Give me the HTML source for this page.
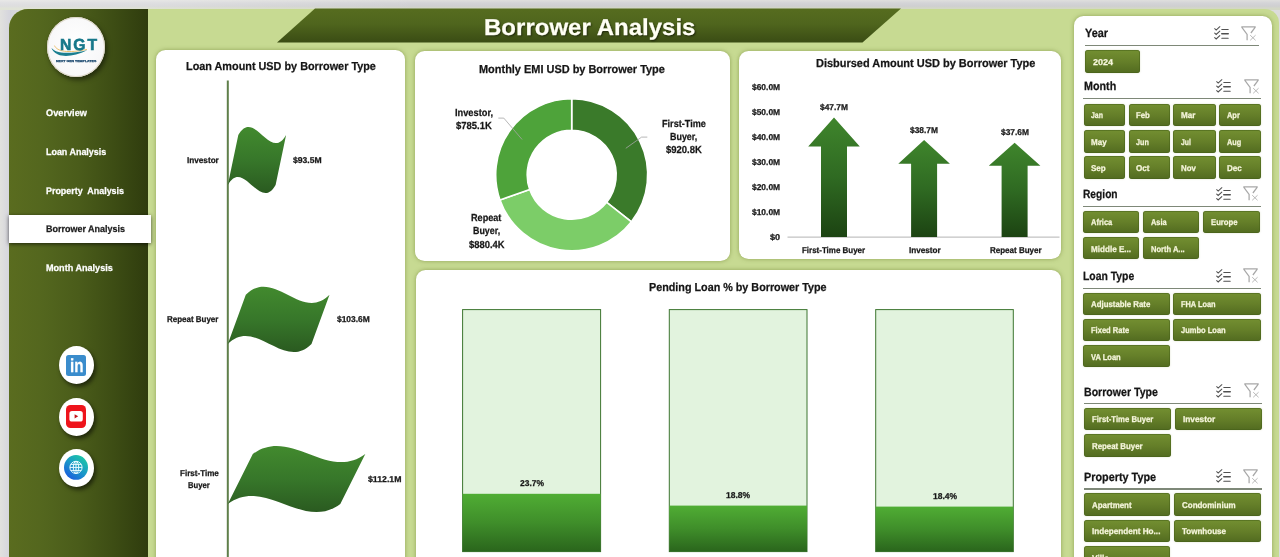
<!DOCTYPE html><html lang="en"><head><meta charset="utf-8"><title>Borrower Analysis</title><style>
html,body{margin:0;padding:0}
body{width:1280px;height:557px;overflow:hidden;position:relative;background:linear-gradient(90deg,#dfdfdc 0px,#d3d3da 9px,#dcdcdc 30px,#dcdcdc 100%);font-family:"Liberation Sans",sans-serif;font-weight:700}
.t{-webkit-text-stroke:0.25px currentColor;text-rendering:geometricPrecision;position:absolute;white-space:nowrap;line-height:1;transform-origin:0 0;display:block}
.abs{position:absolute}
#main{position:absolute;left:9px;top:8.5px;width:1269.5px;height:560px;background:#c7da92;border-radius:19px 14px 0 0;overflow:hidden}
#side{position:absolute;left:9px;top:8.5px;width:139px;height:560px;border-radius:19px 0 0 0;background:linear-gradient(90deg,#5a6c1f 0%,#53661e 25%,#4a5c1a 50%,#3d4d14 75%,#2f3c0e 100%)}
.card{position:absolute;background:#fff;border-radius:9.5px;box-shadow:0 0 4px rgba(105,125,45,.6)}
.btn{position:absolute;height:22.5px;border-radius:3px;background:linear-gradient(#738f31 0%,#657f29 50%,#526b20 100%);box-shadow:inset 0 0 0 0.7px rgba(70,95,25,.7), 0 0 2px rgba(150,160,90,.35)}
.hl{position:absolute;height:1.3px;background:#7e8878}
.circ{position:absolute;width:35px;height:38px;border-radius:50%;background:#fff;box-shadow:2px 3px 4px rgba(0,0,0,.55)}
</style></head><body>
<div class="abs" style="left:0;top:9px;width:10px;height:548px;background:linear-gradient(90deg,#e1e1de 0px,#d6d6dd 9px)"></div><div class="abs" style="left:0;top:0;width:1280px;height:10px;background:linear-gradient(90deg,rgba(255,255,255,.3) 0,rgba(255,255,255,.25) 150px,rgba(255,255,255,0) 420px),linear-gradient(#dfdfdd 0,#d4d4d7 3px,#cfcfd1 6px,#d3d7c6 8.5px)"></div>
<div id="main"></div>
<div id="side"></div>
<svg class="abs" style="left:0;top:0" width="1280" height="60"><defs><linearGradient id="bg" x1="0" y1="0" x2="0" y2="1"><stop offset="0" stop-color="#566c1f"/><stop offset="0.45" stop-color="#4f651d"/><stop offset="1" stop-color="#3a4c14"/></linearGradient></defs><polygon points="315,8.5 901,8.5 862.5,42.5 277,42.5" fill="url(#bg)"/></svg>
<span class="t" style="left:483.50px;top:16px;font-size:23px;color:#fffff4;transform:scaleX(1.0450);text-shadow:1px 1px 2px rgba(0,0,0,.6);">Borrower Analysis</span>
<div class="abs" style="left:9.2px;top:214.5px;width:142.3px;height:28.8px;background:#fff;box-shadow:0 0.5px 4px rgba(0,0,0,.65)"></div>
<span class="t" style="left:45.80px;top:109px;font-size:9.5px;color:#fff;transform:scaleX(0.9681);white-space:pre;">Overview</span>
<span class="t" style="left:45.80px;top:148px;font-size:9.5px;color:#fff;transform:scaleX(0.9398);white-space:pre;">Loan Analysis</span>
<span class="t" style="left:45.80px;top:187px;font-size:9.5px;color:#fff;transform:scaleX(0.9390);white-space:pre;">Property  Analysis</span>
<span class="t" style="left:45.80px;top:225px;font-size:9.5px;color:#1c1c1c;transform:scaleX(0.9462);white-space:pre;">Borrower Analysis</span>
<span class="t" style="left:45.80px;top:264px;font-size:9.5px;color:#fff;transform:scaleX(0.9563);white-space:pre;">Month Analysis</span>
<div class="abs" style="left:46.8px;top:16.8px;width:58.4px;height:60.4px;border-radius:50%;background:radial-gradient(ellipse at 50% 45%,#ffffff 0%,#f7f7f8 72%,#ebe8e0 100%);box-shadow:2px 3px 5px rgba(0,0,0,.5), inset 0 0 0 1px #dcd6c8"></div>
<svg class="abs" style="left:47.5px;top:17px" width="57" height="57" viewBox="0 0 57 57"><path d="M6.5 28.6 C9 34.5 20 36.5 39 32.4" fill="none" stroke="#e9b24c" stroke-width="0.8"/><path d="M3.4 30.8 C7 36 18 37.8 39.2 33.3 C28 38.8 17 40.6 10 37.6 C6 35.8 4 33 3.4 30.8Z" fill="#1b7f90"/></svg>
<span class="t" style="left:60.20px;top:38px;font-size:16px;color:#17788a;transform:scaleX(0.9795);-webkit-text-stroke:0.6px #17788a;letter-spacing:2px;">NGT</span>
<span class="t" style="left:55.90px;top:60px;font-size:2.8px;color:#1d4a70;transform:scaleX(1.2657);">NEXT GEN TEMPLATES</span>
<div class="circ" style="left:58.7px;top:346.4px"></div>
<div class="circ" style="left:58.7px;top:397.8px"></div>
<div class="circ" style="left:58.7px;top:449.1px"></div>
<div class="abs" style="left:66.2px;top:354.5px;width:19.6px;height:21px;border-radius:2.5px;background:#3a8ccc"></div>
<span class="t" style="left:69.60px;top:357px;font-size:19px;color:#fff;transform:scaleX(0.7995);">in</span>
<div class="abs" style="left:66.2px;top:405.4px;width:20px;height:22.2px;border-radius:4.5px;background:#ee141c"></div>
<svg class="abs" style="left:66.2px;top:405.4px" width="20" height="22.2" viewBox="0 0 20 22.2"><rect x="3.4" y="6.1" width="13.4" height="10.4" rx="2.6" fill="#fff"/><polygon points="8.6,9.2 8.6,13.4 12.2,11.3" fill="#c4161c"/></svg>
<svg class="abs" style="left:63.9px;top:455.1px" width="24" height="24.8" viewBox="0 0 24 24.8"><defs><linearGradient id="gg" x1="0.8" y1="0.1" x2="0.2" y2="0.9"><stop offset="0" stop-color="#1cc4a8"/><stop offset="0.5" stop-color="#1a98c8"/><stop offset="1" stop-color="#1a62dc"/></linearGradient></defs><ellipse cx="12" cy="12.4" rx="12" ry="12.4" fill="url(#gg)"/><g fill="none" stroke="#e8fbff" stroke-width="1"><ellipse cx="12" cy="12.4" rx="6.1" ry="6.1"/><ellipse cx="12" cy="12.4" rx="2.7" ry="6.1"/><path d="M5.9 12.4H18.1M12 6.3V18.5M6.8 9.4H17.2M6.8 15.4H17.2"/></g></svg>
<div class="card" style="left:156px;top:49.5px;width:249px;height:520px"></div>
<div class="card" style="left:414.8px;top:51px;width:315.5px;height:210px"></div>
<div class="card" style="left:739px;top:51px;width:321.5px;height:207.5px"></div>
<div class="card" style="left:415.5px;top:270.2px;width:645.8px;height:300px"></div>
<div class="card" style="left:1073.8px;top:16.2px;width:198px;height:560px"></div>
<svg class="abs" style="left:0;top:0" width="1280" height="557" viewBox="0 0 1280 557"><defs><linearGradient id="fg" x1="0" y1="0" x2="0" y2="1"><stop offset="0" stop-color="#428a2e"/><stop offset="0.5" stop-color="#37772a"/><stop offset="1" stop-color="#2a5a20"/></linearGradient><linearGradient id="ag" x1="0" y1="0" x2="0" y2="1"><stop offset="0" stop-color="#3f852c"/><stop offset="0.5" stop-color="#2f6a22"/><stop offset="1" stop-color="#1c4312"/></linearGradient><linearGradient id="pg" x1="0" y1="0" x2="0" y2="1"><stop offset="0" stop-color="#50ad34"/><stop offset="0.5" stop-color="#3f8e2a"/><stop offset="1" stop-color="#2a651c"/></linearGradient></defs><rect x="226.8" y="80.5" width="2" height="480" fill="#5f7f4a"/><path d="M238.3,135.0 C254.2,107.0 270.2,163.0 286.1,135.0 L275.6,185.0 C259.7,213.0 243.7,157.0 227.8,185.0 Z" fill="url(#fg)"/><path d="M245.8,294.8 C273.7,266.8 301.6,322.8 329.5,294.8 L311.5,344.0 C283.6,372.0 255.7,316.0 227.8,344.0 Z" fill="url(#fg)"/><path d="M252.8,454.0 C290.3,426.0 327.8,482.0 365.3,454.0 L340.3,504.0 C302.8,532.0 265.3,476.0 227.8,504.0 Z" fill="url(#fg)"/><path d="M571.70,98.80 A76,76 0 0 1 631.45,221.77 L606.68,202.30 A44.5,44.5 0 0 0 571.70,130.30 Z" fill="#3a7a2a" stroke="#fff" stroke-width="1.6" stroke-linejoin="round"/><path d="M631.45,221.77 A76,76 0 0 1 499.96,199.90 L529.70,189.49 A44.5,44.5 0 0 0 606.68,202.30 Z" fill="#7ccd68" stroke="#fff" stroke-width="1.6" stroke-linejoin="round"/><path d="M499.96,199.90 A76,76 0 0 1 571.70,98.80 L571.70,130.30 A44.5,44.5 0 0 0 529.70,189.49 Z" fill="#4ea33a" stroke="#fff" stroke-width="1.6" stroke-linejoin="round"/><path d="M498.3,118.1 H503.8 L522.1,139.5 M647.3,137.1 H641.6 L625.8,148.3" fill="none" stroke="#a6a6a6" stroke-width="0.8"/><rect x="787.5" y="236.6" width="272" height="1" fill="#b4b4b4"/><polygon points="834,117.4 859.8,146.6 847,146.6 847,237 821,237 821,146.6 808.2,146.6" fill="url(#ag)"/><polygon points="924.1,140.0 949.9,163.7 937.1,163.7 937.1,237 911.1,237 911.1,163.7 898.3000000000001,163.7" fill="url(#ag)"/><polygon points="1014.6,142.7 1040.4,165.7 1027.6,165.7 1027.6,237 1001.6,237 1001.6,165.7 988.8000000000001,165.7" fill="url(#ag)"/><rect x="462.6" y="309.6" width="138.0" height="242" fill="#e2f3de" stroke="#3d7530" stroke-width="1"/><rect x="462.6" y="493.8" width="138.0" height="57.8" fill="url(#pg)"/><rect x="669.3" y="309.6" width="137.7" height="242" fill="#e2f3de" stroke="#3d7530" stroke-width="1"/><rect x="669.3" y="505.6" width="137.7" height="46.0" fill="url(#pg)"/><rect x="875.7" y="309.6" width="137.6" height="242" fill="#e2f3de" stroke="#3d7530" stroke-width="1"/><rect x="875.7" y="506.6" width="137.6" height="45.0" fill="url(#pg)"/></svg>
<span class="t" style="left:185.50px;top:61px;font-size:11.6px;color:#161616;transform:scaleX(0.9359);">Loan Amount USD by Borrower Type</span>
<span class="t" style="left:187.00px;top:156px;font-size:8.5px;color:#161616;transform:scaleX(0.9617);">Investor</span>
<span class="t" style="left:292.90px;top:156px;font-size:8.5px;color:#161616;transform:scaleX(1.0087);">$93.5M</span>
<span class="t" style="left:167.20px;top:315px;font-size:8.5px;color:#161616;transform:scaleX(0.9380);">Repeat Buyer</span>
<span class="t" style="left:336.80px;top:315px;font-size:8.5px;color:#161616;transform:scaleX(0.9915);">$103.6M</span>
<span class="t" style="left:179.60px;top:469px;font-size:8.5px;color:#161616;transform:scaleX(0.9478);">First-Time</span>
<span class="t" style="left:188.00px;top:481px;font-size:8.5px;color:#161616;transform:scaleX(0.9007);">Buyer</span>
<span class="t" style="left:367.80px;top:475px;font-size:8.5px;color:#161616;transform:scaleX(1.0273);">$112.1M</span>
<span class="t" style="left:479.10px;top:64px;font-size:11.6px;color:#161616;transform:scaleX(0.9441);">Monthly EMI USD by Borrower Type</span>
<span class="t" style="left:454.80px;top:109px;font-size:10.2px;color:#161616;transform:scaleX(0.9082);">Investor,</span>
<span class="t" style="left:455.50px;top:122px;font-size:10.2px;color:#161616;transform:scaleX(0.9309);">$785.1K</span>
<span class="t" style="left:661.50px;top:120px;font-size:10.2px;color:#161616;transform:scaleX(0.8937);">First-Time</span>
<span class="t" style="left:669.60px;top:133px;font-size:10.2px;color:#161616;transform:scaleX(0.8755);">Buyer,</span>
<span class="t" style="left:665.50px;top:146px;font-size:10.2px;color:#161616;transform:scaleX(0.9309);">$920.8K</span>
<span class="t" style="left:471.40px;top:214px;font-size:10.2px;color:#161616;transform:scaleX(0.8938);">Repeat</span>
<span class="t" style="left:472.90px;top:227px;font-size:10.2px;color:#161616;transform:scaleX(0.8723);">Buyer,</span>
<span class="t" style="left:468.70px;top:241px;font-size:10.2px;color:#161616;transform:scaleX(0.9231);">$880.4K</span>
<span class="t" style="left:815.50px;top:58px;font-size:11.6px;color:#161616;transform:scaleX(0.9460);">Disbursed Amount USD by Borrower Type</span>
<span class="t" style="left:751.70px;top:83px;font-size:8.5px;color:#161616;transform:scaleX(0.9911);">$60.0M</span>
<span class="t" style="left:751.70px;top:108px;font-size:8.5px;color:#161616;transform:scaleX(0.9911);">$50.0M</span>
<span class="t" style="left:751.70px;top:133px;font-size:8.5px;color:#161616;transform:scaleX(0.9911);">$40.0M</span>
<span class="t" style="left:751.70px;top:158px;font-size:8.5px;color:#161616;transform:scaleX(0.9911);">$30.0M</span>
<span class="t" style="left:751.70px;top:183px;font-size:8.5px;color:#161616;transform:scaleX(0.9911);">$20.0M</span>
<span class="t" style="left:751.70px;top:208px;font-size:8.5px;color:#161616;transform:scaleX(0.9911);">$10.0M</span>
<span class="t" style="left:769.70px;top:233px;font-size:8.5px;color:#161616;transform:scaleX(1.0682);">$0</span>
<span class="t" style="left:820.20px;top:103px;font-size:8.5px;color:#161616;transform:scaleX(0.9876);">$47.7M</span>
<span class="t" style="left:910.30px;top:126px;font-size:8.5px;color:#161616;transform:scaleX(0.9876);">$38.7M</span>
<span class="t" style="left:1000.80px;top:128px;font-size:8.5px;color:#161616;transform:scaleX(0.9876);">$37.6M</span>
<span class="t" style="left:802.40px;top:246px;font-size:8.5px;color:#161616;transform:scaleX(0.9363);">First-Time Buyer</span>
<span class="t" style="left:908.90px;top:246px;font-size:8.5px;color:#161616;transform:scaleX(0.9587);">Investor</span>
<span class="t" style="left:989.50px;top:246px;font-size:8.5px;color:#161616;transform:scaleX(0.9416);">Repeat Buyer</span>
<span class="t" style="left:649.00px;top:282px;font-size:11.6px;color:#161616;transform:scaleX(0.9293);">Pending Loan % by Borrower Type</span>
<span class="t" style="left:519.60px;top:479px;font-size:8.5px;color:#161616;transform:scaleX(0.9958);">23.7%</span>
<span class="t" style="left:726.10px;top:491px;font-size:8.5px;color:#161616;transform:scaleX(0.9958);">18.8%</span>
<span class="t" style="left:932.50px;top:492px;font-size:8.5px;color:#161616;transform:scaleX(0.9958);">18.4%</span>
<span class="t" style="left:1085.00px;top:27px;font-size:12px;color:#151515;transform:scaleX(0.9069);">Year</span>
<div class="hl" style="left:1085px;top:44.8px;width:173.5px"></div>
<svg class="abs" style="left:1213.6px;top:25.9px" width="16" height="14" viewBox="0 0 16 14"><g fill="none" stroke="#505050" stroke-width="1.05" stroke-linecap="round"><path d="M0.7 2.7 L2.2 4.1 L5.8 0.7M0.7 7.1 L2.2 8.5 L5.8 5.1M0.7 11.6 L2.2 13 L5.8 9.6"/><path d="M7.8 3.4H14.2M7.8 12.3H14.2"/><path d="M7.8 7.8H14.2" stroke-width="1.6"/></g></svg>
<svg class="abs" style="left:1241.2px;top:25.8px" width="16" height="15" viewBox="0 0 16 15"><g fill="none" stroke="#a8a8a8" stroke-width="1.25"><path d="M0.3 0.8H14.7M0.7 1.2L6.1 8.4V14.3M14.3 1.2L9.9 7"/><path d="M9.2 9.2L14.6 14.3M14.6 9.2L9.2 14.3" stroke-width="0.8"/></g></svg>
<div class="btn" style="left:1085px;top:50.2px;width:55.0px"></div>
<span class="t" style="left:1092.60px;top:58px;font-size:8.5px;color:#f6f6dc;transform:scaleX(1.0629);">2024</span>
<span class="t" style="left:1083.70px;top:80px;font-size:12px;color:#151515;transform:scaleX(0.8948);">Month</span>
<div class="hl" style="left:1083.4px;top:97.7px;width:178.0px"></div>
<svg class="abs" style="left:1216px;top:79.4px" width="16" height="14" viewBox="0 0 16 14"><g fill="none" stroke="#505050" stroke-width="1.05" stroke-linecap="round"><path d="M0.7 2.7 L2.2 4.1 L5.8 0.7M0.7 7.1 L2.2 8.5 L5.8 5.1M0.7 11.6 L2.2 13 L5.8 9.6"/><path d="M7.8 3.4H14.2M7.8 12.3H14.2"/><path d="M7.8 7.8H14.2" stroke-width="1.6"/></g></svg>
<svg class="abs" style="left:1244px;top:79.2px" width="16" height="15" viewBox="0 0 16 15"><g fill="none" stroke="#a8a8a8" stroke-width="1.25"><path d="M0.3 0.8H14.7M0.7 1.2L6.1 8.4V14.3M14.3 1.2L9.9 7"/><path d="M9.2 9.2L14.6 14.3M14.6 9.2L9.2 14.3" stroke-width="0.8"/></g></svg>
<div class="btn" style="left:1083.6px;top:103.6px;width:41.4px"></div>
<span class="t" style="left:1091.30px;top:111px;font-size:8.5px;color:#f6f6dc;transform:scaleX(0.8124);">Jan</span>
<div class="btn" style="left:1128.8px;top:103.6px;width:41.4px"></div>
<span class="t" style="left:1136.20px;top:111px;font-size:8.5px;color:#f6f6dc;transform:scaleX(0.9132);">Feb</span>
<div class="btn" style="left:1173.4px;top:103.6px;width:42.2px"></div>
<span class="t" style="left:1181.00px;top:111px;font-size:8.5px;color:#f6f6dc;transform:scaleX(0.9526);">Mar</span>
<div class="btn" style="left:1219.2px;top:103.6px;width:41.5px"></div>
<span class="t" style="left:1226.70px;top:111px;font-size:8.5px;color:#f6f6dc;transform:scaleX(0.8744);">Apr</span>
<div class="btn" style="left:1083.6px;top:130px;width:41.4px"></div>
<span class="t" style="left:1091.30px;top:138px;font-size:8.5px;color:#f6f6dc;transform:scaleX(0.9434);">May</span>
<div class="btn" style="left:1128.8px;top:130px;width:41.4px"></div>
<span class="t" style="left:1136.20px;top:138px;font-size:8.5px;color:#f6f6dc;transform:scaleX(0.8470);">Jun</span>
<div class="btn" style="left:1173.4px;top:130px;width:42.2px"></div>
<span class="t" style="left:1181.00px;top:138px;font-size:8.5px;color:#f6f6dc;transform:scaleX(0.8061);">Jul</span>
<div class="btn" style="left:1219.2px;top:130px;width:41.5px"></div>
<span class="t" style="left:1226.70px;top:138px;font-size:8.5px;color:#f6f6dc;transform:scaleX(0.8594);">Aug</span>
<div class="btn" style="left:1083.6px;top:156.4px;width:41.4px"></div>
<span class="t" style="left:1091.30px;top:164px;font-size:8.5px;color:#f6f6dc;transform:scaleX(0.9429);">Sep</span>
<div class="btn" style="left:1128.8px;top:156.4px;width:41.4px"></div>
<span class="t" style="left:1136.20px;top:164px;font-size:8.5px;color:#f6f6dc;transform:scaleX(0.9457);">Oct</span>
<div class="btn" style="left:1173.4px;top:156.4px;width:42.2px"></div>
<span class="t" style="left:1181.00px;top:164px;font-size:8.5px;color:#f6f6dc;transform:scaleX(0.9216);">Nov</span>
<div class="btn" style="left:1219.2px;top:156.4px;width:41.5px"></div>
<span class="t" style="left:1226.70px;top:164px;font-size:8.5px;color:#f6f6dc;transform:scaleX(0.9491);">Dec</span>
<span class="t" style="left:1083.40px;top:188px;font-size:12px;color:#151515;transform:scaleX(0.8509);">Region</span>
<div class="hl" style="left:1083.4px;top:205.7px;width:177.2px"></div>
<svg class="abs" style="left:1215.6px;top:186.6px" width="16" height="14" viewBox="0 0 16 14"><g fill="none" stroke="#505050" stroke-width="1.05" stroke-linecap="round"><path d="M0.7 2.7 L2.2 4.1 L5.8 0.7M0.7 7.1 L2.2 8.5 L5.8 5.1M0.7 11.6 L2.2 13 L5.8 9.6"/><path d="M7.8 3.4H14.2M7.8 12.3H14.2"/><path d="M7.8 7.8H14.2" stroke-width="1.6"/></g></svg>
<svg class="abs" style="left:1243.2px;top:186.2px" width="16" height="15" viewBox="0 0 16 15"><g fill="none" stroke="#a8a8a8" stroke-width="1.25"><path d="M0.3 0.8H14.7M0.7 1.2L6.1 8.4V14.3M14.3 1.2L9.9 7"/><path d="M9.2 9.2L14.6 14.3M14.6 9.2L9.2 14.3" stroke-width="0.8"/></g></svg>
<div class="btn" style="left:1082.8px;top:210.6px;width:56.7px"></div>
<span class="t" style="left:1090.70px;top:218px;font-size:8.5px;color:#f6f6dc;transform:scaleX(0.8799);">Africa</span>
<div class="btn" style="left:1142.9px;top:210.6px;width:56.5px"></div>
<span class="t" style="left:1150.60px;top:218px;font-size:8.5px;color:#f6f6dc;transform:scaleX(0.8688);">Asia</span>
<div class="btn" style="left:1202.8px;top:210.6px;width:56.8px"></div>
<span class="t" style="left:1210.70px;top:218px;font-size:8.5px;color:#f6f6dc;transform:scaleX(0.9084);">Europe</span>
<div class="btn" style="left:1082.8px;top:236.9px;width:56.7px"></div>
<span class="t" style="left:1090.70px;top:245px;font-size:8.5px;color:#f6f6dc;transform:scaleX(0.9541);">Middle E...</span>
<div class="btn" style="left:1142.9px;top:236.9px;width:56.5px"></div>
<span class="t" style="left:1150.60px;top:245px;font-size:8.5px;color:#f6f6dc;transform:scaleX(0.8858);">North A...</span>
<span class="t" style="left:1083.00px;top:270px;font-size:12px;color:#151515;transform:scaleX(0.8661);">Loan Type</span>
<div class="hl" style="left:1083px;top:287.9px;width:177.6px"></div>
<svg class="abs" style="left:1215.6px;top:268.8px" width="16" height="14" viewBox="0 0 16 14"><g fill="none" stroke="#505050" stroke-width="1.05" stroke-linecap="round"><path d="M0.7 2.7 L2.2 4.1 L5.8 0.7M0.7 7.1 L2.2 8.5 L5.8 5.1M0.7 11.6 L2.2 13 L5.8 9.6"/><path d="M7.8 3.4H14.2M7.8 12.3H14.2"/><path d="M7.8 7.8H14.2" stroke-width="1.6"/></g></svg>
<svg class="abs" style="left:1243.2px;top:268.4px" width="16" height="15" viewBox="0 0 16 15"><g fill="none" stroke="#a8a8a8" stroke-width="1.25"><path d="M0.3 0.8H14.7M0.7 1.2L6.1 8.4V14.3M14.3 1.2L9.9 7"/><path d="M9.2 9.2L14.6 14.3M14.6 9.2L9.2 14.3" stroke-width="0.8"/></g></svg>
<div class="btn" style="left:1082.8px;top:292.6px;width:87.4px"></div>
<span class="t" style="left:1090.70px;top:300px;font-size:8.5px;color:#f6f6dc;transform:scaleX(0.9231);">Adjustable Rate</span>
<div class="btn" style="left:1173.3px;top:292.6px;width:87.3px"></div>
<span class="t" style="left:1181.00px;top:300px;font-size:8.5px;color:#f6f6dc;transform:scaleX(0.8689);">FHA Loan</span>
<div class="btn" style="left:1082.8px;top:318.7px;width:87.4px"></div>
<span class="t" style="left:1090.70px;top:326px;font-size:8.5px;color:#f6f6dc;transform:scaleX(0.8886);">Fixed Rate</span>
<div class="btn" style="left:1173.3px;top:318.7px;width:87.3px"></div>
<span class="t" style="left:1181.00px;top:326px;font-size:8.5px;color:#f6f6dc;transform:scaleX(0.8847);">Jumbo Loan</span>
<div class="btn" style="left:1082.8px;top:344.9px;width:87.4px"></div>
<span class="t" style="left:1090.70px;top:353px;font-size:8.5px;color:#f6f6dc;transform:scaleX(0.8858);">VA Loan</span>
<span class="t" style="left:1084.40px;top:386px;font-size:12px;color:#151515;transform:scaleX(0.8819);">Borrower Type</span>
<div class="hl" style="left:1084.4px;top:402.9px;width:177.2px"></div>
<svg class="abs" style="left:1216px;top:383.6px" width="16" height="14" viewBox="0 0 16 14"><g fill="none" stroke="#505050" stroke-width="1.05" stroke-linecap="round"><path d="M0.7 2.7 L2.2 4.1 L5.8 0.7M0.7 7.1 L2.2 8.5 L5.8 5.1M0.7 11.6 L2.2 13 L5.8 9.6"/><path d="M7.8 3.4H14.2M7.8 12.3H14.2"/><path d="M7.8 7.8H14.2" stroke-width="1.6"/></g></svg>
<svg class="abs" style="left:1244px;top:383.4px" width="16" height="15" viewBox="0 0 16 15"><g fill="none" stroke="#a8a8a8" stroke-width="1.25"><path d="M0.3 0.8H14.7M0.7 1.2L6.1 8.4V14.3M14.3 1.2L9.9 7"/><path d="M9.2 9.2L14.6 14.3M14.6 9.2L9.2 14.3" stroke-width="0.8"/></g></svg>
<div class="btn" style="left:1084.2px;top:407.9px;width:87.1px"></div>
<span class="t" style="left:1092.10px;top:415px;font-size:8.5px;color:#f6f6dc;transform:scaleX(0.9096);">First-Time Buyer</span>
<div class="btn" style="left:1174.7px;top:407.9px;width:87.3px"></div>
<span class="t" style="left:1182.60px;top:415px;font-size:8.5px;color:#f6f6dc;transform:scaleX(0.9738);">Investor</span>
<div class="btn" style="left:1084.2px;top:434.1px;width:87.1px"></div>
<span class="t" style="left:1092.10px;top:442px;font-size:8.5px;color:#f6f6dc;transform:scaleX(0.9234);">Repeat Buyer</span>
<span class="t" style="left:1083.80px;top:471px;font-size:12px;color:#151515;transform:scaleX(0.9035);">Property Type</span>
<div class="hl" style="left:1083.5px;top:488.4px;width:178.0px"></div>
<svg class="abs" style="left:1215.8px;top:468.9px" width="16" height="14" viewBox="0 0 16 14"><g fill="none" stroke="#505050" stroke-width="1.05" stroke-linecap="round"><path d="M0.7 2.7 L2.2 4.1 L5.8 0.7M0.7 7.1 L2.2 8.5 L5.8 5.1M0.7 11.6 L2.2 13 L5.8 9.6"/><path d="M7.8 3.4H14.2M7.8 12.3H14.2"/><path d="M7.8 7.8H14.2" stroke-width="1.6"/></g></svg>
<svg class="abs" style="left:1243.3px;top:468.8px" width="16" height="15" viewBox="0 0 16 15"><g fill="none" stroke="#a8a8a8" stroke-width="1.25"><path d="M0.3 0.8H14.7M0.7 1.2L6.1 8.4V14.3M14.3 1.2L9.9 7"/><path d="M9.2 9.2L14.6 14.3M14.6 9.2L9.2 14.3" stroke-width="0.8"/></g></svg>
<div class="btn" style="left:1083.8px;top:493.2px;width:86.7px"></div>
<span class="t" style="left:1091.50px;top:501px;font-size:8.5px;color:#f6f6dc;transform:scaleX(0.9316);">Apartment</span>
<div class="btn" style="left:1174.3px;top:493.2px;width:86.9px"></div>
<span class="t" style="left:1182.00px;top:501px;font-size:8.5px;color:#f6f6dc;transform:scaleX(0.9382);">Condominium</span>
<div class="btn" style="left:1083.8px;top:519.7px;width:86.7px"></div>
<span class="t" style="left:1091.50px;top:527px;font-size:8.5px;color:#f6f6dc;transform:scaleX(0.9593);">Independent Ho...</span>
<div class="btn" style="left:1174.3px;top:519.7px;width:86.9px"></div>
<span class="t" style="left:1182.00px;top:527px;font-size:8.5px;color:#f6f6dc;transform:scaleX(0.9444);">Townhouse</span>
<div class="btn" style="left:1083.8px;top:546px;width:86.7px"></div>
<span class="t" style="left:1091.50px;top:554px;font-size:8.5px;color:#f6f6dc;transform:scaleX(0.9811);">Villa</span>
</body></html>
